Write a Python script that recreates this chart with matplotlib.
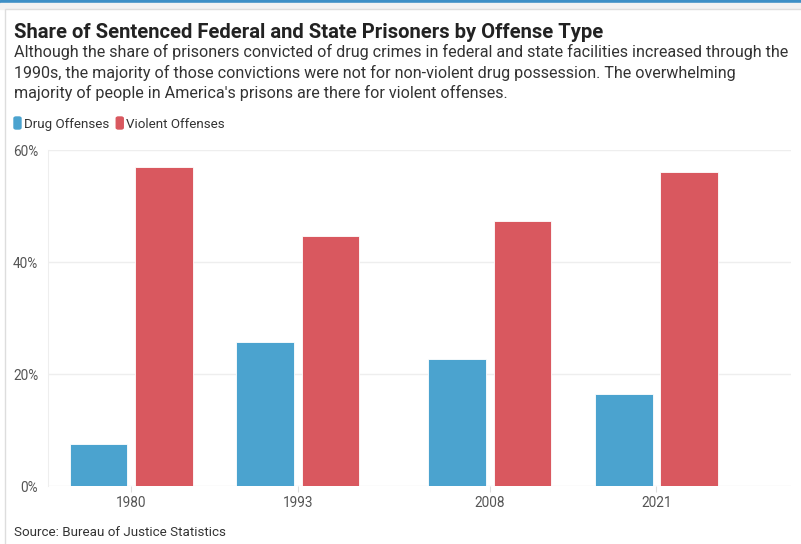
#!/usr/bin/env python3

import matplotlib.pyplot as plt
from matplotlib.patches import Rectangle, FancyBboxPatch
from matplotlib.ticker import FuncFormatter

plt.rcParams['font.family'] = ['Roboto', 'DejaVu Sans']

years = [1980, 1993, 2008, 2021]
drug = [7.5, 25.7, 22.6, 16.5]
violent = [57.0, 44.6, 47.3, 56.1]
series_names = ['Drug Offenses', 'Violent Offenses']
colors = ['#4ba3cf', '#d9585f']

title = 'Share of Sentenced Federal and State Prisoners by Offense Type'
subtitle = ("Although the share of prisoners convicted of drug crimes in federal and state facilities increased through the\n"
            "1990s, the majority of those convictions were not for non-violent drug possession. The overwhelming\n"
            "majority of people in America's prisons are there for violent offenses.")
source = 'Source: Bureau of Justice Statistics'

fig = plt.figure(figsize=(8.01, 5.44), dpi=100)
W, H = 801, 544

# page chrome: blue strip on top and a light card border
fig.patches.append(Rectangle((0, 1 - 3 / H), 1, 3 / H, transform=fig.transFigure,
                             color='#3d8fc6', zorder=-2))
fig.patches.append(Rectangle((0, 1 - 9 / H), 1, 6 / H, transform=fig.transFigure,
                             color='#f2f2f2', zorder=-2))
fig.patches.append(Rectangle((5 / W, -0.01), 1.0, 1 - 9 / H + 0.01, transform=fig.transFigure,
                             facecolor='white', edgecolor='#dddddd', lw=1.0, zorder=-1))

fig.text(14 / W, 1 - 38 / H, title, fontsize=14.6, fontweight='bold', color='#222222')
fig.text(14 / W, 1 - 98 / H, subtitle, fontsize=11.65, color='#333333', linespacing=1.33)

# legend
lx = 14
for name, c in zip(series_names, colors):
    fig.patches.append(FancyBboxPatch((lx / W, 1 - 129 / H), 7 / W, 12 / H,
                                      boxstyle='round,pad=0,rounding_size=0.0025',
                                      transform=fig.transFigure, color=c))
    t = fig.text((lx + 10) / W, 1 - 128 / H, name, fontsize=9.6, color='#333333')
    fig.canvas.draw()
    bb = t.get_window_extent()
    lx = bb.x1 + 7

fig.text(14 / W, 1 - 536 / H, source, fontsize=9.6, color='#333333')

ax = fig.add_axes([48 / W, 1 - 486 / H, (791 - 48) / W, (486 - 150) / H])
ax.set_zorder(1)
bw = 4.5
off = 2.55
ax.bar([y - off for y in years], drug, width=bw, color=colors[0],
       edgecolor='#ffffff', linewidth=0.6, zorder=3)
ax.bar([y + off for y in years], violent, width=bw, color=colors[1],
       edgecolor='#ffffff', linewidth=0.6, zorder=3)

ax.set_xlim(1973.5, 2031.5)
ax.set_ylim(0, 60)
ax.set_xticks(years)
ax.set_xticklabels([str(y) for y in years])
ax.set_yticks([0, 20, 40, 60])
ax.yaxis.set_major_formatter(FuncFormatter(lambda v, p: f'{v:.0f}%'))
ax.grid(axis='y', color='#eeeeee', lw=1, zorder=0)
for s in ['top', 'right', 'bottom']:
    ax.spines[s].set_visible(False)
ax.spines['left'].set_color('#eeeeee')
ax.tick_params(axis='y', length=0, pad=7, labelsize=9.8, labelcolor='#555555')
ax.tick_params(axis='x', length=4, color='#dddddd', pad=3, labelsize=9.8, labelcolor='#555555')

fig.savefig('out.png', dpi=100)
